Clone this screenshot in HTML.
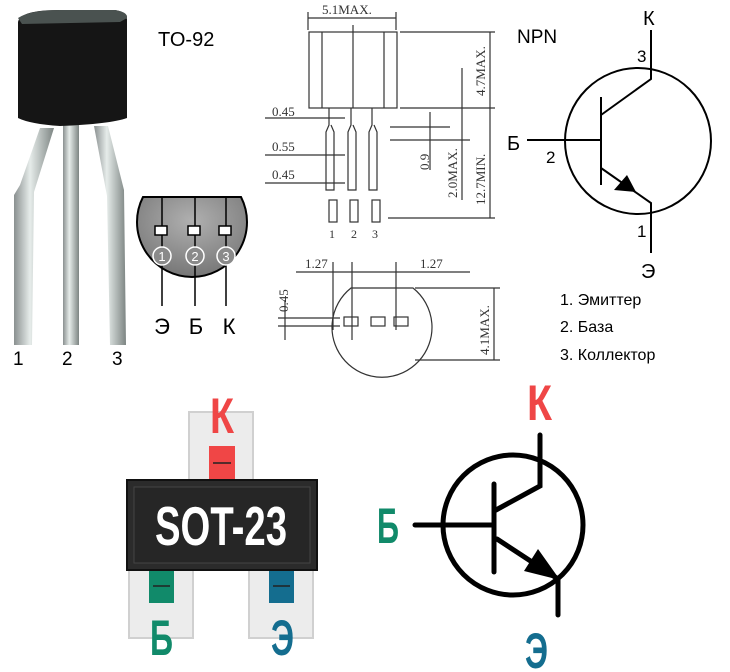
<!DOCTYPE html>
<html><head><meta charset="utf-8"><style>
body{margin:0;background:#fff}
svg{display:block}
.s{font-family:"Liberation Sans","DejaVu Sans",sans-serif}
.r{font-family:"Liberation Serif","DejaVu Serif",serif}
.n{font-family:"Liberation Sans Narrow","Liberation Sans",sans-serif;font-weight:bold}
</style></head><body>
<svg width="730" height="672" viewBox="0 0 730 672" xmlns="http://www.w3.org/2000/svg">
<defs>
<linearGradient id="lead" x1="0" x2="1"><stop offset="0" stop-color="#8a9090"/><stop offset="0.4" stop-color="#e6ecea"/><stop offset="1" stop-color="#7d8583"/></linearGradient>
<radialGradient id="pin" cx="0.5" cy="0.3" r="0.8"><stop offset="0" stop-color="#b0b0b0"/><stop offset="1" stop-color="#6e6e6e"/></radialGradient>
</defs>
<path d="M20 185 L40 128 L54 128 L34 192 L32 345 L14 345 L14 195 Z" fill="url(#lead)"/>
<rect x="63" y="124" width="16" height="221" fill="url(#lead)"/>
<path d="M94 126 L108 126 L124 190 L126 345 L110 345 L107 196 Z" fill="url(#lead)"/>
<path d="M18 22 Q20 10 60 10 L115 10 Q128 12 127 22 L127 118 Q110 124 60 126 Q30 124 18 118 Z" fill="#151515"/>
<path d="M18 18 Q30 10 60 10 L115 10 Q128 12 127 18 L120 22 L22 24 Z" fill="#4a5250"/>
<g class="s">
<text x="158" y="46" font-size="20">TO-92</text>
<text x="13" y="365" font-size="19">1</text>
<text x="62" y="365" font-size="19">2</text>
<text x="112" y="365" font-size="19">3</text>
</g>
<path d="M143 197 L241 197 A55 55 0 1 1 143 197 Z" fill="url(#pin)" stroke="#000" stroke-width="2"/>
<g stroke="#000" stroke-width="1.5" fill="none">
<line x1="162" y1="197" x2="162" y2="306"/><line x1="195" y1="197" x2="195" y2="306"/><line x1="226" y1="197" x2="226" y2="306"/>
</g>
<g fill="#fff" stroke="#000" stroke-width="1.5"><rect x="155" y="226" width="12" height="9"/><rect x="188" y="226" width="12" height="9"/><rect x="219" y="226" width="12" height="9"/></g>
<g fill="#8a8a8a" stroke="#fff" stroke-width="1.5"><circle cx="162" cy="256" r="9"/><circle cx="195" cy="256" r="9"/><circle cx="226" cy="256" r="9"/></g>
<g class="s" font-size="13" fill="#fff" text-anchor="middle"><text x="162" y="261">1</text><text x="195" y="261">2</text><text x="226" y="261">3</text></g>
<g class="s" font-size="22" text-anchor="middle"><text x="162" y="334">Э</text><text x="196" y="334">Б</text><text x="229" y="334">К</text></g>
<g stroke="#333" stroke-width="1.2" fill="none">
<rect x="309" y="32" width="88" height="76"/>
<line x1="322" y1="32" x2="322" y2="108"/><line x1="384" y1="32" x2="384" y2="108"/><line x1="353" y1="25" x2="353" y2="108"/>
<line x1="308" y1="18" x2="396" y2="18"/><line x1="308" y1="12" x2="308" y2="30"/><line x1="396" y1="12" x2="396" y2="30"/>
<path d="M329 108 V125 L326 132 V190 H334 V132 L331 125"/>
<path d="M351 108 V125 L348 132 V190 H356 V132 L353 125"/>
<path d="M372 108 V125 L369 132 V190 H377 V132 L374 125"/>
<rect x="329" y="200" width="8" height="22"/><rect x="350" y="200" width="8" height="22"/><rect x="372" y="200" width="8" height="22"/>
<line x1="400" y1="32" x2="495" y2="32"/><line x1="400" y1="108" x2="495" y2="108"/><line x1="388" y1="218" x2="495" y2="218"/>
<line x1="490" y1="32" x2="490" y2="218"/><line x1="462" y1="68" x2="462" y2="200"/>
<line x1="430" y1="112" x2="430" y2="170"/><line x1="390" y1="127" x2="450" y2="127"/><line x1="390" y1="140" x2="470" y2="140"/>
<line x1="265" y1="118" x2="345" y2="118"/><line x1="265" y1="155" x2="345" y2="155"/><line x1="265" y1="183" x2="345" y2="183"/>
<line x1="296" y1="272" x2="470" y2="272"/><line x1="352" y1="262" x2="352" y2="340"/><line x1="333" y1="262" x2="333" y2="330"/><line x1="396" y1="262" x2="396" y2="330"/>
<path d="M351 288 L413 288 A50 50 0 1 1 351 288 Z"/>
<line x1="415" y1="288" x2="500" y2="288"/><line x1="415" y1="360" x2="500" y2="360"/><line x1="494" y1="288" x2="494" y2="360"/>
<line x1="278" y1="318" x2="340" y2="318"/><line x1="278" y1="326" x2="340" y2="326"/><line x1="285" y1="300" x2="285" y2="340"/>
<rect x="344" y="317" width="14" height="9"/><rect x="371" y="317" width="14" height="9"/><rect x="394" y="317" width="14" height="9"/>
</g>
<g class="r" font-size="13" fill="#333">
<text x="322" y="14">5.1MAX.</text>
<text x="272" y="116">0.45</text><text x="272" y="151">0.55</text><text x="272" y="179">0.45</text>
<text x="329" y="238" font-size="12">1</text><text x="351" y="238" font-size="12">2</text><text x="372" y="238" font-size="12">3</text>
<text x="305" y="268">1.27</text><text x="420" y="268">1.27</text>
<text transform="translate(485 96) rotate(-90)">4.7MAX.</text>
<text transform="translate(485 205) rotate(-90)">12.7MIN.</text>
<text transform="translate(457 198) rotate(-90)">2.0MAX.</text>
<text transform="translate(429 170) rotate(-90)">0.9</text>
<text transform="translate(288 312) rotate(-90)">0.45</text>
<text transform="translate(489 355) rotate(-90)">4.1MAX.</text>
</g>
<text class="s" x="517" y="43" font-size="19">NPN</text>
<circle cx="638" cy="141" r="73" fill="none" stroke="#000" stroke-width="2"/>
<g stroke="#000" stroke-width="2" fill="none">
<polyline points="651,30 651,79 601,115"/>
<line x1="601" y1="97" x2="601" y2="185"/>
<line x1="527" y1="140" x2="601" y2="140"/>
<polyline points="601,168 651,203 651,253"/>
</g>
<polygon points="636,192 614,190 627,175" fill="#000"/>
<g class="s" font-size="20"><text x="643" y="25">К</text><text x="507" y="150">Б</text><text x="641" y="278">Э</text></g>
<g class="s" font-size="17"><text x="637" y="62">3</text><text x="546" y="163">2</text><text x="637" y="237">1</text></g>
<g class="s" font-size="16"><text x="560" y="305">1. Эмиттер</text><text x="560" y="332">2. База</text><text x="560" y="360">3. Коллектор</text></g>
<g fill="#ececec" stroke="#d0d0d0" stroke-width="2">
<rect x="189" y="412" width="64" height="70"/>
<rect x="129" y="568" width="64" height="70"/>
<rect x="249" y="568" width="64" height="70"/>
</g>
<rect x="209" y="446" width="26" height="36" fill="#f04646"/>
<rect x="149" y="568" width="25" height="35" fill="#118a6a"/>
<rect x="269" y="568" width="25" height="35" fill="#146d8f"/>
<g stroke="#222" stroke-width="1.5"><line x1="213" y1="463" x2="231" y2="463"/><line x1="153" y1="586" x2="170" y2="586"/><line x1="273" y1="586" x2="290" y2="586"/></g>
<rect x="127" y="480" width="190" height="90" fill="#2b2b2b" stroke="#111" stroke-width="2"/>
<rect x="134" y="487" width="176" height="76" fill="#262626" stroke="#444"/>
<text class="n" x="221" y="545" font-size="55" fill="#fff" text-anchor="middle" textLength="132" lengthAdjust="spacingAndGlyphs">SOT-23</text>
<g class="n" font-size="50">
<text x="210" y="433" fill="#ef4646" textLength="24" lengthAdjust="spacingAndGlyphs">К</text>
<text x="150" y="655" fill="#118a6a" textLength="23" lengthAdjust="spacingAndGlyphs">Б</text>
<text x="271" y="655" fill="#146d8f" textLength="23" lengthAdjust="spacingAndGlyphs">Э</text>
<text x="527" y="420" fill="#ef4646" textLength="25" lengthAdjust="spacingAndGlyphs">К</text>
<text x="377" y="543" fill="#118a6a" textLength="22" lengthAdjust="spacingAndGlyphs">Б</text>
<text x="525" y="668" fill="#146d8f" textLength="23" lengthAdjust="spacingAndGlyphs">Э</text>
</g>
<circle cx="513" cy="525" r="70" fill="none" stroke="#000" stroke-width="5"/>
<g stroke="#000" stroke-width="5" fill="none" stroke-linecap="round">
<polyline points="540,435 540,486 496,510"/>
<line x1="494" y1="484" x2="494" y2="572"/>
<line x1="415" y1="525" x2="494" y2="525"/>
<polyline points="497,539 558,579 558,615"/>
</g>
<polygon points="560,580 524,571 538,549" fill="#000"/>
</svg>
</body></html>
